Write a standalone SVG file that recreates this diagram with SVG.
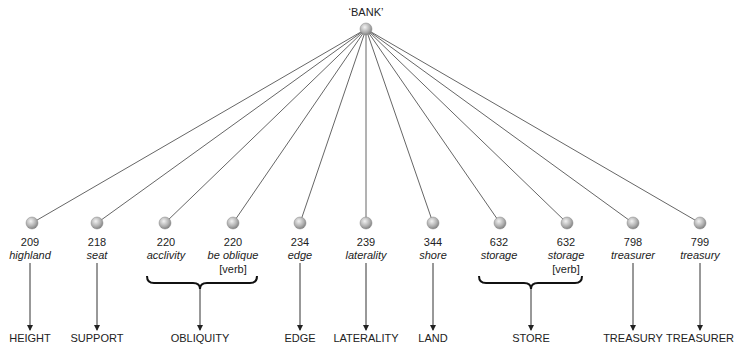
<svg xmlns="http://www.w3.org/2000/svg" width="740" height="349" viewBox="0 0 740 349">
<defs>
<radialGradient id="ball" cx="0.4" cy="0.35" r="0.7">
<stop offset="0" stop-color="#f2f2f2"/>
<stop offset="0.6" stop-color="#b0b0b0"/>
<stop offset="1" stop-color="#7a7a7a"/>
</radialGradient>
<marker id="ah" markerWidth="6" markerHeight="8" refX="5" refY="4" orient="auto" markerUnits="userSpaceOnUse">
<path d="M0,1 L6,4 L0,7 Z" fill="#222"/>
</marker>
<style>
.t{font-family:"Liberation Sans",Arial,sans-serif;font-size:11px;fill:#222;text-anchor:middle}
.i{font-style:italic}
.spoke{stroke:#666;stroke-width:1;fill:none}
.arr{stroke:#333;stroke-width:1;fill:none;marker-end:url(#ah)}
.brace{stroke:#111;stroke-width:2;fill:none}
.ball{fill:url(#ball);stroke:#888;stroke-width:0.5}
</style>
</defs>
<g id="connectors">
<line class="spoke" x1="366" y1="29" x2="32" y2="223"/>
<line class="spoke" x1="366" y1="29" x2="97" y2="223"/>
<line class="spoke" x1="366" y1="29" x2="165" y2="223"/>
<line class="spoke" x1="366" y1="29" x2="233" y2="223"/>
<line class="spoke" x1="366" y1="29" x2="300" y2="223"/>
<line class="spoke" x1="366" y1="29" x2="366" y2="223"/>
<line class="spoke" x1="366" y1="29" x2="433" y2="223"/>
<line class="spoke" x1="366" y1="29" x2="500" y2="223"/>
<line class="spoke" x1="366" y1="29" x2="567" y2="223"/>
<line class="spoke" x1="366" y1="29" x2="633" y2="223"/>
<line class="spoke" x1="366" y1="29" x2="700" y2="223"/>
<line class="arr" x1="30" y1="263" x2="30" y2="330"/>
<line class="arr" x1="97" y1="263" x2="97" y2="330"/>
<line class="arr" x1="200" y1="289" x2="200" y2="330"/>
<line class="arr" x1="300" y1="263" x2="300" y2="330"/>
<line class="arr" x1="366" y1="263" x2="366" y2="330"/>
<line class="arr" x1="433" y1="263" x2="433" y2="330"/>
<line class="arr" x1="531" y1="289" x2="531" y2="330"/>
<line class="arr" x1="633" y1="263" x2="633" y2="330"/>
<line class="arr" x1="700" y1="263" x2="700" y2="330"/>
<path class="brace" d="M147,276 q0,7 7,7 L193,283 q7,0 7,6 q0,-6 7,-6 L250,283 q7,0 7,-7"/>
<path class="brace" d="M479,276 q0,7 7,7 L524,283 q7,0 7,6 q0,-6 7,-6 L575,283 q7,0 7,-7"/>
</g>
<g id="bank">
<circle class="ball" cx="366" cy="29" r="6"/>
<text class="t" x="366" y="16">‘BANK’</text>
</g>
<g id="n209">
<circle class="ball" cx="32" cy="223" r="6"/>
<text class="t" x="30" y="246">209</text>
<text class="t i" x="30" y="259">highland</text>
</g>
<g id="n218">
<circle class="ball" cx="97" cy="223" r="6"/>
<text class="t" x="97" y="246">218</text>
<text class="t i" x="97" y="259">seat</text>
</g>
<g id="n220a">
<circle class="ball" cx="165" cy="223" r="6"/>
<text class="t" x="166" y="246">220</text>
<text class="t i" x="166" y="259">acclivity</text>
</g>
<g id="n220b">
<circle class="ball" cx="233" cy="223" r="6"/>
<text class="t" x="233" y="246">220</text>
<text class="t i" x="233" y="259">be oblique</text>
<text class="t" x="233" y="273">[verb]</text>
</g>
<g id="n234">
<circle class="ball" cx="300" cy="223" r="6"/>
<text class="t" x="300" y="246">234</text>
<text class="t i" x="300" y="259">edge</text>
</g>
<g id="n239">
<circle class="ball" cx="366" cy="223" r="6"/>
<text class="t" x="366" y="246">239</text>
<text class="t i" x="366" y="259">laterality</text>
</g>
<g id="n344">
<circle class="ball" cx="433" cy="223" r="6"/>
<text class="t" x="433" y="246">344</text>
<text class="t i" x="433" y="259">shore</text>
</g>
<g id="n632a">
<circle class="ball" cx="500" cy="223" r="6"/>
<text class="t" x="499" y="246">632</text>
<text class="t i" x="499" y="259">storage</text>
</g>
<g id="n632b">
<circle class="ball" cx="567" cy="223" r="6"/>
<text class="t" x="566" y="246">632</text>
<text class="t i" x="566" y="259">storage</text>
<text class="t" x="566" y="273">[verb]</text>
</g>
<g id="n798">
<circle class="ball" cx="633" cy="223" r="6"/>
<text class="t" x="633" y="246">798</text>
<text class="t i" x="633" y="259">treasurer</text>
</g>
<g id="n799">
<circle class="ball" cx="700" cy="223" r="6"/>
<text class="t" x="700" y="246">799</text>
<text class="t i" x="700" y="259">treasury</text>
</g>
<g id="labels">
<text class="t" x="30" y="342">HEIGHT</text>
<text class="t" x="97" y="342">SUPPORT</text>
<text class="t" x="200" y="342">OBLIQUITY</text>
<text class="t" x="300" y="342">EDGE</text>
<text class="t" x="366" y="342">LATERALITY</text>
<text class="t" x="433" y="342">LAND</text>
<text class="t" x="531" y="342">STORE</text>
<text class="t" x="633" y="342">TREASURY</text>
<text class="t" x="700" y="342">TREASURER</text>
</g>
</svg>
